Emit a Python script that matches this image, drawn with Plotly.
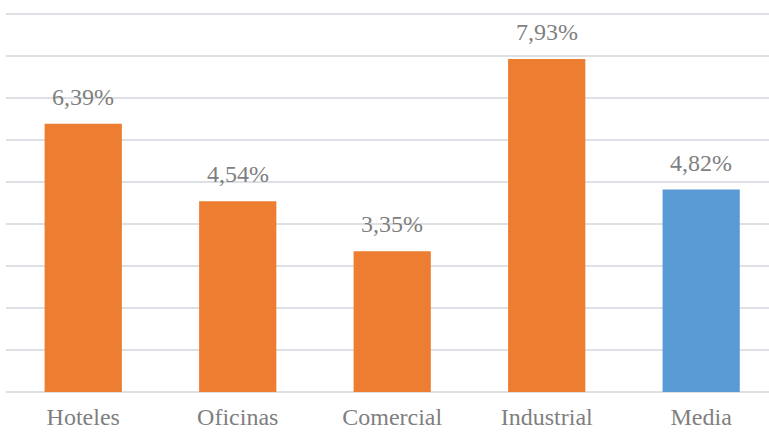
import plotly.graph_objects as go

categories = ["Hoteles", "Oficinas", "Comercial", "Industrial", "Media"]
values = [6.39, 4.54, 3.35, 7.93, 4.82]
labels = ["6,39%", "4,54%", "3,35%", "7,93%", "4,82%"]
colors = ["#ED7D31", "#ED7D31", "#ED7D31", "#ED7D31", "#5B9BD5"]

FONT = "Liberation Serif"
GRID = "#DDE1E6"
TXT = "#7F7F7F"

fig = go.Figure(go.Bar(x=categories, y=values, marker_color=colors, marker_line_width=0))

for c, v, t in zip(categories, values, labels):
    fig.add_annotation(x=c, y=v, text=t, showarrow=False, yanchor="bottom", yshift=12,
                       font=dict(family=FONT, size=24, color=TXT))

fig.update_layout(
    width=769, height=432,
    margin=dict(l=6, r=0, t=13, b=40),
    plot_bgcolor="white", paper_bgcolor="white",
    bargap=0.5, showlegend=False,
    font=dict(family=FONT),
    xaxis=dict(range=[-0.5, 4.439], showgrid=False, showline=False, ticks="",
               automargin=False,
               tickfont=dict(family=FONT, size=24, color=TXT), ticklabelstandoff=8),
    yaxis=dict(range=[0, 9.025], tickvals=list(range(0, 10)), showgrid=True, gridcolor=GRID, gridwidth=1.5,
               zeroline=True, zerolinecolor=GRID, zerolinewidth=1.5, automargin=False,
               showticklabels=False, ticks="", showline=False),
)

fig.write_html("out.html", config={"displayModeBar": False},
               post_script="document.body.style.margin='0';")
